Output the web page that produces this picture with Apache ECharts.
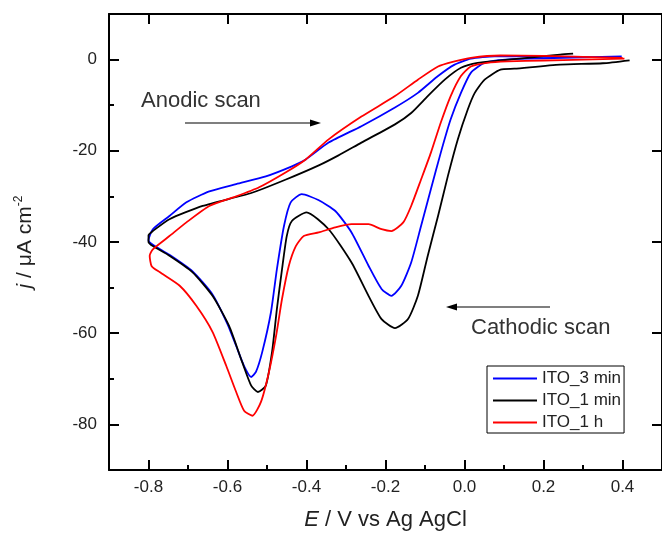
<!DOCTYPE html>
<html lang="en">
<head>
    <meta charset="UTF-8">
    <title>CV ITO</title>
    <script src="https://cdn.jsdelivr.net/npm/echarts@6/dist/echarts.min.js"></script>
</head>
<body style="margin:0">
<div id="main" style="width: 662px; height: 536px;"></div>
<script>
    // tick positions
    var xTicks = [-0.8, -0.6, -0.4, -0.2, 0.0, 0.2, 0.4];
    var xMinor = [-0.7, -0.5, -0.3, -0.1, 0.1, 0.3];
    var yTicks = [-80, -60, -40, -20, 0];
    var yMinor = [-70, -50, -30, -10];

    // ITO_3 min (blue): cathodic branch then anodic branch
    var blueE = [0.398, 0.30, 0.20, 0.12, 0.09, 0.051, 0.016, -0.009, -0.035, -0.06, -0.085, -0.11, -0.135, -0.16, -0.185, -0.21, -0.243, -0.286, -0.327, -0.37, -0.412, -0.44, -0.457, -0.475, -0.49, -0.512, -0.528, -0.54, -0.558, -0.578, -0.60, -0.638, -0.689, -0.747, -0.789, -0.80,
        -0.789, -0.747, -0.704, -0.646, -0.578, -0.503, -0.437, -0.402, -0.344, -0.261, -0.176, -0.118, -0.067, -0.025, 0.016, 0.076, 0.159, 0.30, 0.393];
    var blueJ = [0.7, 0.5, 0.3, 0.1, -0.1, -0.7, -2.9, -7.3, -13.1, -20.4, -28.4, -36.5, -44.5, -49.6, -51.8, -50.3, -45.2, -37.9, -33.2, -30.8, -29.5, -31.3, -36.5, -46, -55.4, -64.1, -68.5, -69.6, -67.2, -62.8, -58, -51.5, -46.4, -42.8, -40.6, -39.6,
        -37.2, -34.3, -31.3, -28.9, -27.3, -25.6, -23.4, -21.9, -18.2, -14.6, -10.5, -7.3, -3.6, -1.1, 0.2, 0.7, 0.7, 0.6, 0.5];

    // ITO_1 min (black)
    var blackE = [0.418, 0.35, 0.242, 0.126, 0.091, 0.051, 0.026, 0.008, -0.017, -0.042, -0.067, -0.093, -0.118, -0.143, -0.176, -0.21, -0.243, -0.286, -0.344, -0.40, -0.437, -0.45, -0.462, -0.475, -0.487, -0.503, -0.523, -0.54, -0.563, -0.596, -0.638, -0.689, -0.747, -0.789, -0.80,
        -0.80, -0.789, -0.747, -0.663, -0.538, -0.452, -0.369, -0.319, -0.261, -0.176, -0.135, -0.093, -0.05, -0.009, 0.033, 0.091, 0.159, 0.242, 0.275];
    var blackJ = [-0.15, -0.8, -1.1, -2.0, -2.2, -4.4, -7.3, -11, -17.5, -25.5, -34.3, -43, -51.8, -56.9, -58.9, -56.9, -51.8, -44.5, -37.2, -33.5, -35.4, -38.7, -46, -54.7, -64, -71.5, -72.9, -71.5, -66.3, -58.4, -51.8, -46.6, -43, -40.9, -40,
        -38.5, -37.6, -35, -32.1, -29.2, -26.3, -23.2, -21.0, -18.2, -14.2, -11.7, -8.0, -4.4, -1.8, -0.7, -0.2, 0.4, 1.1, 1.3];

    // ITO_1 h (red)
    var redE = [0.405, 0.30, 0.20, 0.109, 0.058, 0.016, -0.009, -0.035, -0.06, -0.085, -0.11, -0.135, -0.155, -0.185, -0.21, -0.243, -0.286, -0.327, -0.369, -0.407, -0.427, -0.445, -0.462, -0.477, -0.495, -0.515, -0.537, -0.558, -0.578, -0.603, -0.638, -0.679, -0.721, -0.772, -0.792, -0.797,
        -0.789, -0.747, -0.704, -0.646, -0.578, -0.52, -0.452, -0.402, -0.344, -0.261, -0.176, -0.118, -0.067, -0.025, 0.016, 0.091, 0.20, 0.30, 0.40];
    var redJ = [0.2, 0.0, -0.2, -0.4, -0.7, -1.5, -3.6, -8.0, -13.8, -20.4, -26.3, -32.1, -35.7, -37.6, -37.2, -36.1, -36.1, -36.8, -37.9, -38.7, -40.9, -45.3, -52.5, -60.6, -68.5, -75, -78.1, -77, -72.9, -67.2, -59.7, -54, -49.6, -46.6, -45.3, -43,
        -41.6, -38.7, -35.7, -32.1, -30, -28, -24.7, -21.9, -17.5, -12.5, -8.0, -4.4, -1.5, -0.4, 0.4, 0.9, 0.8, 0.6, 0.4];

    function zip(a, b) {
        var out = [];
        for (var i = 0; i < a.length; i++) {
            out.push([a[i], b[i]]);
        }
        return out;
    }

    var font = '"Liberation Sans", Arial, sans-serif';
    var tickStyle = {color: '#000', width: 2};
    var myChart = echarts.init(document.getElementById('main'));

    var option = {
        animation: false,
        textStyle: {fontFamily: font},
        grid: {left: 109, right: -4, top: 14, bottom: 65},
        legend: {
            left: 487,
            top: 366,
            orient: 'vertical',
            borderColor: '#000',
            borderWidth: 1,
            padding: [3, 3, 1, 6],
            itemGap: 3,
            itemWidth: 44,
            itemHeight: 2,
            icon: 'rect',
            textStyle: {fontSize: 17, color: '#222', fontFamily: font, lineHeight: 19},
            data: ['ITO_3 min', 'ITO_1 min', 'ITO_1 h']
        },
        xAxis: [
            {
                type: 'value', min: -0.9, max: 0.5, position: 'bottom',
                axisLine: {onZero: false, lineStyle: tickStyle},
                axisTick: {inside: true, length: 10, customValues: xTicks, lineStyle: tickStyle},
                axisLabel: {
                    customValues: xTicks, fontSize: 17, color: '#222', margin: 9,
                    formatter: function (v) { return v.toFixed(1); }
                },
                splitLine: {show: false},
                name: '{i|E} / V vs Ag AgCl',
                nameLocation: 'middle',
                nameGap: 39,
                nameTextStyle: {
                    fontSize: 22, color: '#222',
                    rich: {i: {fontSize: 22, fontStyle: 'italic', color: '#222'}}
                }
            },
            {
                type: 'value', min: -0.9, max: 0.5, position: 'bottom',
                axisLine: {show: false, onZero: false},
                axisTick: {inside: true, length: 5, customValues: xMinor, lineStyle: tickStyle},
                axisLabel: {show: false},
                splitLine: {show: false}
            },
            {
                type: 'value', min: -0.9, max: 0.5, position: 'top',
                axisLine: {onZero: false, lineStyle: tickStyle},
                axisTick: {inside: true, length: 10, customValues: xTicks, lineStyle: tickStyle},
                axisLabel: {show: false},
                splitLine: {show: false}
            }
        ],
        yAxis: [
            {
                type: 'value', min: -90, max: 10, position: 'left',
                axisLine: {onZero: false, lineStyle: tickStyle},
                axisTick: {inside: true, length: 10, customValues: yTicks, lineStyle: tickStyle},
                axisLabel: {customValues: yTicks, fontSize: 17, color: '#222', margin: 12},
                splitLine: {show: false},
                name: '{i|j} / μA cm{sup|-2}',
                nameLocation: 'middle',
                nameGap: 72,
                nameTextStyle: {
                    fontSize: 21, color: '#222',
                    rich: {
                        i: {fontSize: 21, fontStyle: 'italic', color: '#222'},
                        sup: {fontSize: 12, color: '#222', verticalAlign: 'top', padding: [0, 0, 12, 0]}
                    }
                }
            },
            {
                type: 'value', min: -90, max: 10, position: 'left',
                axisLine: {show: false, onZero: false},
                axisTick: {inside: true, length: 5, customValues: yMinor, lineStyle: tickStyle},
                axisLabel: {show: false},
                splitLine: {show: false}
            },
            {
                type: 'value', min: -90, max: 10, position: 'right',
                axisLine: {onZero: false, lineStyle: tickStyle},
                axisTick: {inside: true, length: 10, customValues: yTicks, lineStyle: tickStyle},
                axisLabel: {show: false},
                splitLine: {show: false}
            }
        ],
        graphic: [
            {type: 'text', left: 141, top: 90, style: {text: 'Anodic scan', fontSize: 22, fill: '#333', fontFamily: font}},
            {type: 'line', shape: {x1: 185, y1: 123, x2: 314, y2: 123}, style: {stroke: '#000', lineWidth: 1.2}},
            {type: 'polygon', shape: {points: [[310, 119.5], [321, 123], [310, 126.5]]}, style: {fill: '#000'}},
            {type: 'text', left: 471, top: 317, style: {text: 'Cathodic scan', fontSize: 22, fill: '#333', fontFamily: font}},
            {type: 'line', shape: {x1: 452, y1: 307, x2: 550, y2: 307}, style: {stroke: '#000', lineWidth: 1.2}},
            {type: 'polygon', shape: {points: [[446, 307], [457, 303.5], [457, 310.5]]}, style: {fill: '#000'}}
        ],
        series: [
            {
                name: 'ITO_3 min', type: 'line', symbol: 'none', smooth: 0.2,
                lineStyle: {color: '#0000ff', width: 1.8}, itemStyle: {color: '#0000ff'},
                data: zip(blueE, blueJ)
            },
            {
                name: 'ITO_1 min', type: 'line', symbol: 'none', smooth: 0.2,
                lineStyle: {color: '#000000', width: 1.8}, itemStyle: {color: '#000000'},
                data: zip(blackE, blackJ)
            },
            {
                name: 'ITO_1 h', type: 'line', symbol: 'none', smooth: 0.2,
                lineStyle: {color: '#ff0000', width: 1.8}, itemStyle: {color: '#ff0000'},
                data: zip(redE, redJ)
            }
        ]
    };
    myChart.setOption(option);
</script>
</body>
</html>
